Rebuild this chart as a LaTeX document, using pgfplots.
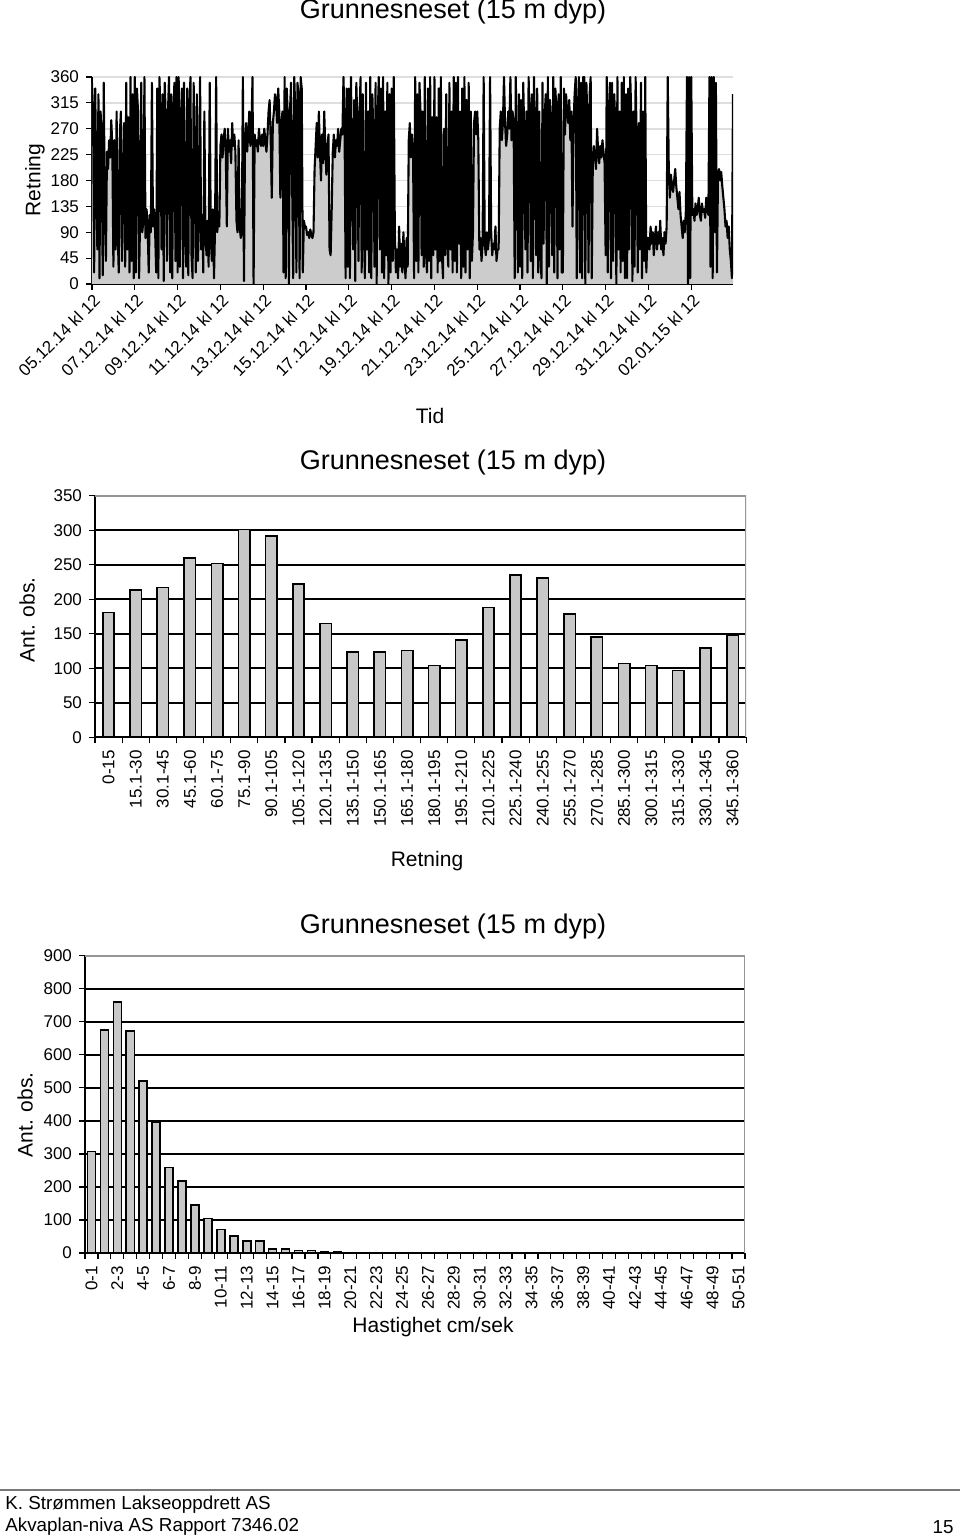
\documentclass[border=0pt]{standalone}
\usepackage{fontspec}
\setmainfont{Liberation Sans}
\usepackage{pgfplots}
\pgfplotsset{compat=1.18}
\usepackage{pgfplotstable}

\definecolor{barfill}{RGB}{200,200,200}
\definecolor{areafill}{RGB}{204,204,204}
\definecolor{lgrid}{RGB}{222,222,222}
\definecolor{frame}{RGB}{150,150,150}

% direction time series, one value per 0.05 day from 05.12.14 kl 12 (one day per line)
\pgfplotstableread[row sep=\\]{d\\
350\\ 300\\ 20\\ 340\\ 180\\ 60\\ 330\\ 10\\ 300\\ 260\\ 15\\ 350\\ 120\\ 40\\ 230\\ 200\\ 250\\ 220\\ 285\\ 240\\
30\\ 250\\ 60\\ 300\\ 90\\ 20\\ 260\\ 300\\ 40\\ 180\\ 280\\ 30\\ 350\\ 60\\ 290\\ 20\\ 360\\ 40\\ 330\\ 10\\
360\\ 20\\ 340\\ 300\\ 10\\ 120\\ 350\\ 90\\ 110\\ 360\\ 80\\ 130\\ 100\\ 20\\ 120\\ 90\\ 350\\ 100\\ 130\\ 90\\
20\\ 340\\ 10\\ 360\\ 300\\ 60\\ 330\\ 5\\ 350\\ 280\\ 40\\ 300\\ 360\\ 20\\ 330\\ 10\\ 290\\ 350\\ 40\\ 360\\
20\\ 360\\ 30\\ 280\\ 340\\ 10\\ 350\\ 90\\ 30\\ 340\\ 15\\ 300\\ 360\\ 50\\ 10\\ 350\\ 200\\ 20\\ 330\\ 40\\
110\\ 360\\ 60\\ 120\\ 20\\ 300\\ 90\\ 50\\ 110\\ 30\\ 350\\ 80\\ 40\\ 130\\ 10\\ 100\\ 360\\ 90\\ 110\\ 100\\
240\\ 260\\ 220\\ 250\\ 270\\ 230\\ 100\\ 270\\ 230\\ 250\\ 210\\ 280\\ 240\\ 260\\ 230\\ 110\\ 90\\ 250\\ 100\\ 80\\
90\\ 360\\ 5\\ 250\\ 280\\ 230\\ 260\\ 300\\ 240\\ 270\\ 360\\ 0\\ 260\\ 240\\ 250\\ 230\\ 270\\ 250\\ 240\\ 260\\
240\\ 270\\ 250\\ 230\\ 260\\ 300\\ 320\\ 250\\ 150\\ 280\\ 300\\ 330\\ 320\\ 280\\ 340\\ 300\\ 150\\ 280\\ 300\\ 20\\
360\\ 10\\ 340\\ 290\\ 0\\ 300\\ 350\\ 180\\ 10\\ 360\\ 300\\ 20\\ 350\\ 330\\ 10\\ 360\\ 340\\ 20\\ 110\\ 100\\
100\\ 85\\ 90\\ 80\\ 95\\ 85\\ 80\\ 90\\ 200\\ 240\\ 280\\ 220\\ 300\\ 230\\ 180\\ 260\\ 210\\ 300\\ 240\\ 190\\
240\\ 260\\ 60\\ 50\\ 130\\ 230\\ 260\\ 220\\ 250\\ 240\\ 270\\ 230\\ 250\\ 270\\ 260\\ 360\\ 280\\ 10\\ 340\\ 30\\
340\\ 10\\ 360\\ 200\\ 60\\ 320\\ 5\\ 350\\ 280\\ 40\\ 300\\ 360\\ 20\\ 330\\ 100\\ 10\\ 350\\ 60\\ 300\\ 20\\
360\\ 10\\ 330\\ 250\\ 30\\ 350\\ 0\\ 290\\ 360\\ 60\\ 340\\ 20\\ 360\\ 10\\ 300\\ 50\\ 350\\ 0\\ 330\\ 20\\
340\\ 40\\ 360\\ 90\\ 20\\ 60\\ 10\\ 100\\ 30\\ 70\\ 20\\ 90\\ 40\\ 10\\ 80\\ 30\\ 250\\ 280\\ 220\\ 260\\
230\\ 10\\ 360\\ 40\\ 330\\ 20\\ 350\\ 300\\ 50\\ 300\\ 30\\ 360\\ 60\\ 20\\ 340\\ 40\\ 360\\ 10\\ 290\\ 50\\
360\\ 60\\ 290\\ 20\\ 340\\ 40\\ 360\\ 50\\ 10\\ 270\\ 50\\ 330\\ 70\\ 30\\ 350\\ 60\\ 300\\ 20\\ 360\\ 40\\
350\\ 20\\ 360\\ 70\\ 300\\ 10\\ 340\\ 30\\ 360\\ 20\\ 320\\ 60\\ 350\\ 10\\ 300\\ 40\\ 90\\ 280\\ 300\\ 260\\
300\\ 250\\ 60\\ 80\\ 40\\ 70\\ 360\\ 70\\ 50\\ 90\\ 60\\ 80\\ 360\\ 90\\ 50\\ 70\\ 60\\ 100\\ 40\\ 60\\
60\\ 270\\ 300\\ 250\\ 280\\ 360\\ 280\\ 240\\ 260\\ 300\\ 270\\ 360\\ 250\\ 300\\ 280\\ 10\\ 360\\ 240\\ 20\\ 330\\
30\\ 320\\ 10\\ 350\\ 250\\ 60\\ 300\\ 20\\ 360\\ 280\\ 40\\ 330\\ 10\\ 360\\ 270\\ 50\\ 340\\ 20\\ 300\\ 60\\
10\\ 350\\ 70\\ 290\\ 330\\ 0\\ 360\\ 30\\ 320\\ 270\\ 50\\ 360\\ 20\\ 340\\ 300\\ 10\\ 330\\ 60\\ 360\\ 20\\
20\\ 340\\ 260\\ 330\\ 300\\ 280\\ 320\\ 250\\ 300\\ 100\\ 280\\ 330\\ 360\\ 10\\ 300\\ 360\\ 20\\ 350\\ 10\\ 360\\
360\\ 0\\ 350\\ 280\\ 20\\ 330\\ 360\\ 10\\ 210\\ 240\\ 220\\ 200\\ 270\\ 230\\ 210\\ 240\\ 220\\ 250\\ 230\\ 210\\
50\\ 360\\ 20\\ 300\\ 350\\ 10\\ 350\\ 40\\ 330\\ 280\\ 0\\ 360\\ 60\\ 300\\ 20\\ 350\\ 40\\ 360\\ 10\\ 330\\
10\\ 340\\ 60\\ 360\\ 290\\ 5\\ 300\\ 30\\ 360\\ 250\\ 20\\ 280\\ 60\\ 350\\ 10\\ 300\\ 40\\ 360\\ 20\\ 80\\
80\\ 60\\ 100\\ 70\\ 90\\ 50\\ 80\\ 100\\ 60\\ 90\\ 70\\ 110\\ 60\\ 80\\ 50\\ 90\\ 70\\ 100\\ 360\\ 200\\
150\\ 190\\ 170\\ 160\\ 180\\ 200\\ 170\\ 150\\ 130\\ 160\\ 120\\ 100\\ 80\\ 110\\ 90\\ 130\\ 360\\ 0\\ 360\\ 10\\
360\\ 120\\ 130\\ 110\\ 140\\ 120\\ 130\\ 150\\ 120\\ 110\\ 140\\ 125\\ 130\\ 115\\ 150\\ 130\\ 120\\ 360\\ 30\\ 360\\
10\\ 360\\ 90\\ 350\\ 20\\ 190\\ 200\\ 180\\ 195\\ 170\\ 150\\ 130\\ 100\\ 110\\ 80\\ 100\\ 60\\ 40\\ 10\\ 330\\
}\tsdata

\pgfplotstableread{
i n
0 181
1 213
2 217
3 260
4 252
5 301
6 292
7 222
8 165
9 124
10 124
11 126
12 104
13 141
14 188
15 235
16 231
17 179
18 145
19 107
20 104
21 97
22 129
23 148
}\dirdata

\pgfplotstableread{
i n
0 307
1 675
2 761
3 672
4 520
5 397
6 259
7 218
8 145
9 105
10 71
11 52
12 37
13 37
14 12
15 12
16 8
17 8
18 5
19 5
}\speeddata

\begin{document}
\begin{tikzpicture}
\path[use as bounding box] (0,0) rectangle (480pt,769pt);
\pgfplotsset{every axis/.append style={
  scale only axis, anchor=south west,
  /pgf/number format/assume math mode=true,
  tick label style={font=\fontsize{8.5}{10}\selectfont},
  axis line style={black, line width=0.8pt},
  tick style={black, line width=0.6pt},
  tick align=outside,
  major tick length=3pt, minor tick length=3pt,
  axis x line*=bottom, axis y line*=left,
}}

% ---------- top: time series ----------
\node[font=\fontsize{13.5}{16}\selectfont] at (226.5pt,763pt) {Grunnesneset (15 m dyp)};
\begin{axis}[at={(46pt,627pt)}, width=320.5pt, height=103.5pt,
  xmin=0, xmax=29.95, ymin=0, ymax=360,
  ytick={0,45,...,360},
  xtick={0,2,...,28},
  xticklabels={05.12.14 kl 12,07.12.14 kl 12,09.12.14 kl 12,11.12.14 kl 12,13.12.14 kl 12,15.12.14 kl 12,17.12.14 kl 12,19.12.14 kl 12,21.12.14 kl 12,23.12.14 kl 12,25.12.14 kl 12,27.12.14 kl 12,29.12.14 kl 12,31.12.14 kl 12,02.01.15 kl 12},
  xticklabel style={rotate=45, anchor=east, xshift=2.5pt, yshift=-4.5pt, font=\fontsize{8.5}{10}\selectfont},
  ymajorgrids, grid style={lgrid, line width=0.8pt},
]
\addplot[fill=areafill, draw=none] table[x expr=\coordindex/20, y=d] {\tsdata} \closedcycle;
\addplot[black, line width=1.05pt, line join=round] table[x expr=\coordindex/20, y=d] {\tsdata};
\end{axis}
\node[rotate=90, font=\fontsize{10.5}{12}\selectfont] at (17.5pt,679pt) {Retning};
\node[font=\fontsize{10.5}{12}\selectfont] at (215pt,561pt) {Tid};

% ---------- middle: direction histogram ----------
\node[font=\fontsize{13.5}{16}\selectfont] at (226.5pt,537.5pt) {Grunnesneset (15 m dyp)};
\begin{axis}[at={(47.5pt,400.35pt)}, width=325.6pt, height=120.8pt,
  ybar, bar width=0.42,
  xmin=-0.5, xmax=23.5, ymin=0, ymax=350,
  ytick={0,50,...,350},
  xtick={0,...,23},
  minor xtick={-0.5,0.5,...,23.5},
  major x tick style={draw=none},
  xticklabels={0-15,15.1-30,30.1-45,45.1-60,60.1-75,75.1-90,90.1-105,105.1-120,120.1-135,135.1-150,150.1-165,165.1-180,180.1-195,195.1-210,210.1-225,225.1-240,240.1-255,255.1-270,270.1-285,285.1-300,300.1-315,315.1-330,330.1-345,345.1-360},
  xticklabel style={rotate=90, anchor=east},
  ymajorgrids, grid style={black, line width=0.8pt},
]
\addplot[fill=barfill, draw=black, line width=0.8pt] table[x=i, y=n] {\dirdata};
\draw[frame, line width=0.9pt] (rel axis cs:0,1) -- (rel axis cs:1,1) -- (rel axis cs:1,0);
\end{axis}
\node[rotate=90, font=\fontsize{10.5}{12}\selectfont] at (13.5pt,459pt) {Ant. obs.};
\node[font=\fontsize{10.5}{12}\selectfont] at (213.5pt,338.5pt) {Retning};

% ---------- bottom: speed histogram ----------
\node[font=\fontsize{13.5}{16}\selectfont] at (226.5pt,305.5pt) {Grunnesneset (15 m dyp)};
\begin{axis}[at={(42.5pt,142.5pt)}, width=330pt, height=148.6pt,
  ybar, bar width=0.62,
  xmin=-0.5, xmax=50.5, ymin=0, ymax=900,
  ytick={0,100,...,900},
  xtick={0,2,...,50},
  minor xtick={-0.5,0.5,...,50.5},
  major x tick style={draw=none},
  xticklabels={0-1,2-3,4-5,6-7,8-9,10-11,12-13,14-15,16-17,18-19,20-21,22-23,24-25,26-27,28-29,30-31,32-33,34-35,36-37,38-39,40-41,42-43,44-45,46-47,48-49,50-51},
  xticklabel style={rotate=90, anchor=east},
  ymajorgrids, grid style={black, line width=0.8pt},
]
\addplot[fill=barfill, draw=black, line width=0.8pt] table[x=i, y=n] {\speeddata};
\draw[frame, line width=0.9pt] (rel axis cs:0,1) -- (rel axis cs:1,1) -- (rel axis cs:1,0);
\end{axis}
\node[rotate=90, font=\fontsize{10.5}{12}\selectfont] at (12.5pt,211.5pt) {Ant. obs.};
\node[font=\fontsize{10.5}{12}\selectfont] at (216.5pt,105.5pt) {Hastighet cm/sek};

% ---------- footer ----------
\draw[frame!80!black, line width=1pt] (0,24pt) -- (480pt,24pt);
\node[anchor=west, inner sep=0pt, font=\fontsize{9.4}{11}\selectfont] at (2.5pt,16.5pt) {K. Strømmen Lakseoppdrett AS};
\node[anchor=west, inner sep=0pt, font=\fontsize{9.4}{11}\selectfont] at (2.5pt,5.5pt) {Akvaplan-niva AS Rapport 7346.02};
\node[anchor=east, inner sep=0pt, font=\fontsize{9.4}{11}\selectfont] at (477pt,5.5pt) {15};
\end{tikzpicture}
\end{document}
